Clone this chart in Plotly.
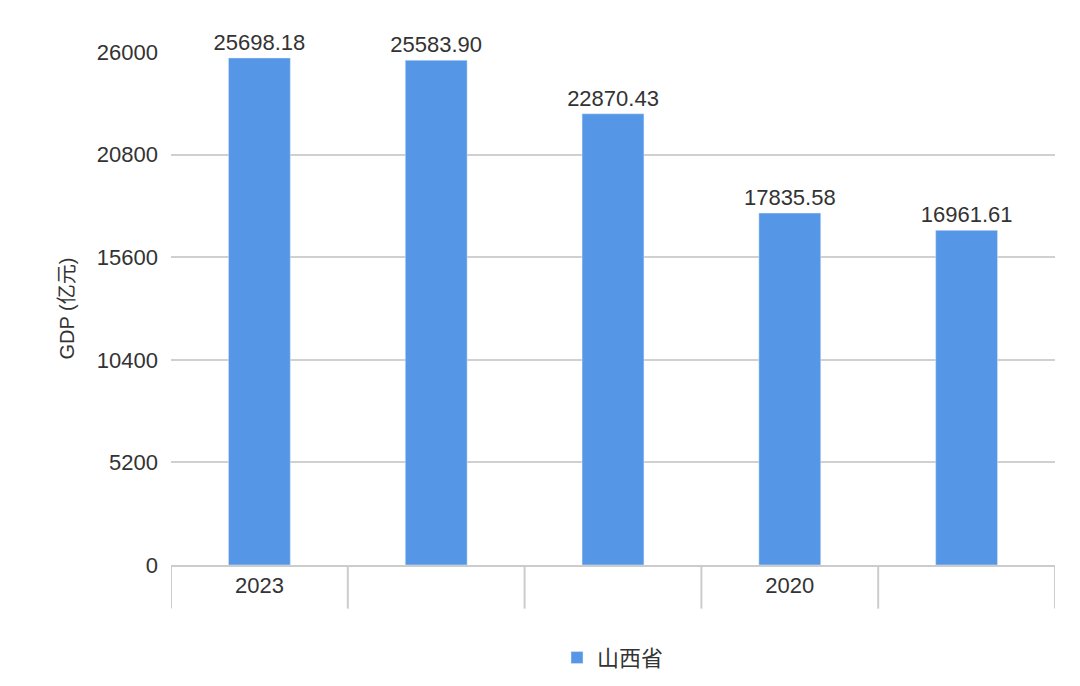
import plotly.graph_objects as go

years = ["2023", "2022", "2021", "2020", "2019"]
gdp = [25698.18, 25583.90, 22870.43, 17835.58, 16961.61]
shown_ticks = ["2023", "", "", "2020", ""]
y_ticks = [0, 5200, 10400, 15600, 20800, 26000]

font = "Liberation Sans, Noto Sans CJK SC, sans-serif"

fig = go.Figure()
fig.add_trace(go.Bar(
    x=years, y=gdp, name="山西省",
    marker_color="#5596e6",
    text=[f"{v:.2f}" for v in gdp], textposition="outside",
    constraintext="none",
    textfont=dict(size=22, color="#333"), cliponaxis=False,
))

# category divider ticks under the axis
for i in range(len(years) + 1):
    fig.add_shape(type="line", xref="x", yref="paper",
                  x0=i - 0.5, x1=i - 0.5, y0=0, y1=-0.085,
                  line=dict(color="#cccccc", width=2))

fig.update_layout(
    width=1080, height=686,
    margin=dict(l=163, r=33, t=44, b=129, autoexpand=False),
    plot_bgcolor="white", paper_bgcolor="white",
    font=dict(family=font, size=22, color="#333"),
    bargap=0.65,
    showlegend=True,
    legend=dict(orientation="h", x=0.5, xanchor="center", y=-0.14, yanchor="top",
                font=dict(size=22)),
    xaxis=dict(tickvals=years, ticktext=shown_ticks, ticks="", showline=True,
               linecolor="#cccccc", linewidth=2, range=[-0.5, 4.5], automargin=False,
               tickfont=dict(size=22, color="#333")),
    yaxis=dict(range=[0, 26000], tickvals=y_ticks, tickformat="d", showgrid=True,
               gridcolor="#d0d0d0", gridwidth=2, zeroline=False, automargin=False,
               ticklabelstandoff=12,
               title=dict(text="GDP (亿元)", font=dict(size=20, color="#333"), standoff=16),
               tickfont=dict(size=22, color="#333")),
)

fig.write_html("out.html")
